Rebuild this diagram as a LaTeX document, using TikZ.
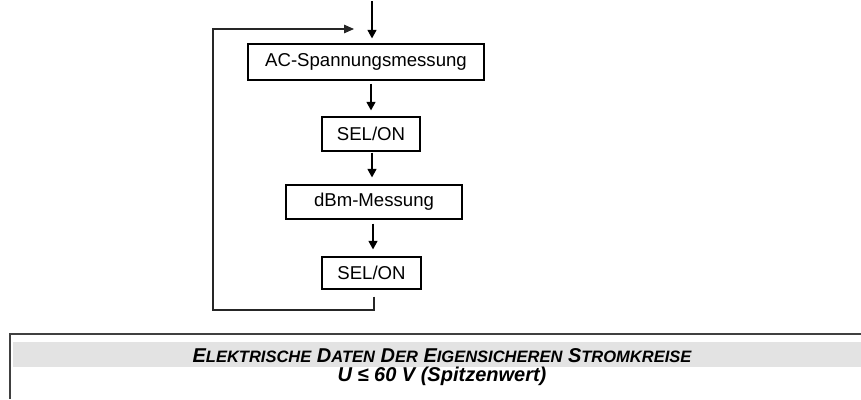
\documentclass[tikz,border=0pt]{standalone}
\usepackage{fontspec}
\setmainfont{Liberation Sans}
\usetikzlibrary{arrows.meta}
\newcommand\SCw[2]{{\fontsize{20}{24}\selectfont #1}{\fontsize{16.5}{20}\selectfont #2}}
\begin{document}
\begin{tikzpicture}[x=1pt,y=-1pt,
  box/.style={draw=black,line width=1.2pt,inner sep=0pt,font=\fontsize{18.6}{22}\selectfont},
  flow/.style={draw=black,line width=1.2pt,-{Triangle[length=8.5pt,width=9pt]}},
  ret/.style={draw=black!85,line width=1.2pt}]
\useasboundingbox (0,0) rectangle (861,399);
% boxes
\node[box,minimum width=236pt,minimum height=36pt] (ac) at (366,62) {AC-Spannungsmessung};
\node[box,minimum width=98pt,minimum height=34pt] (sel1) at (371,134) {SEL/ON};
\node[box,minimum width=176pt,minimum height=34pt] (dbm) at (374,202) {dBm-Messung};
\node[box,minimum width=99pt,minimum height=32pt] (sel2) at (371.5,273) {SEL/ON};
% axis coordinates
\coordinate (top) at (372,1);
\coordinate (a1) at (371,0);
\coordinate (a2) at (372,0);
\coordinate (a3) at (373,0);
\coordinate (a4) at (374,310);
\coordinate (bl) at (213,310);
\coordinate (tl) at (213,29);
\coordinate (fin) at (354,29);
% arrows
\draw[flow,shorten >=5pt] (top) -- (ac.north -| top);
\draw[flow,shorten <=3pt,shorten >=6pt] (ac.south -| a1) -- (sel1.north -| a1);
\draw[flow,shorten <=1pt,shorten >=7pt] (sel1.south -| a2) -- (dbm.north -| a2);
\draw[flow,shorten <=4pt,shorten >=7pt] (dbm.south -| a3) -- (sel2.north -| a3);
\draw[ret,-{Triangle[length=10pt,width=8.5pt]},line join=miter,shorten <=7pt] (sel2.south -| a4) -- (a4) -- (bl) -- (tl) -- (fin);
% table
\fill[black!11] (13,342) rectangle (861,367);
\draw[black!75,line width=2pt] (861,334) -- (10,334) -- (10,399);
\node[anchor=base,inner sep=0pt,font=\bfseries\itshape] (cap) at (442,362)
  {\SCw{E}{LEKTRISCHE}\fontsize{20}{24}\selectfont{} \SCw{D}{ATEN} \SCw{D}{ER} \SCw{E}{IGENSICHEREN} \SCw{S}{TROMKREISE}};
\node[anchor=base,inner sep=0pt,font=\bfseries\itshape\fontsize{20}{24}\selectfont] (u) at (442,381)
  {U ≤ 60 V (Spitzenwert)};
\end{tikzpicture}
\end{document}
